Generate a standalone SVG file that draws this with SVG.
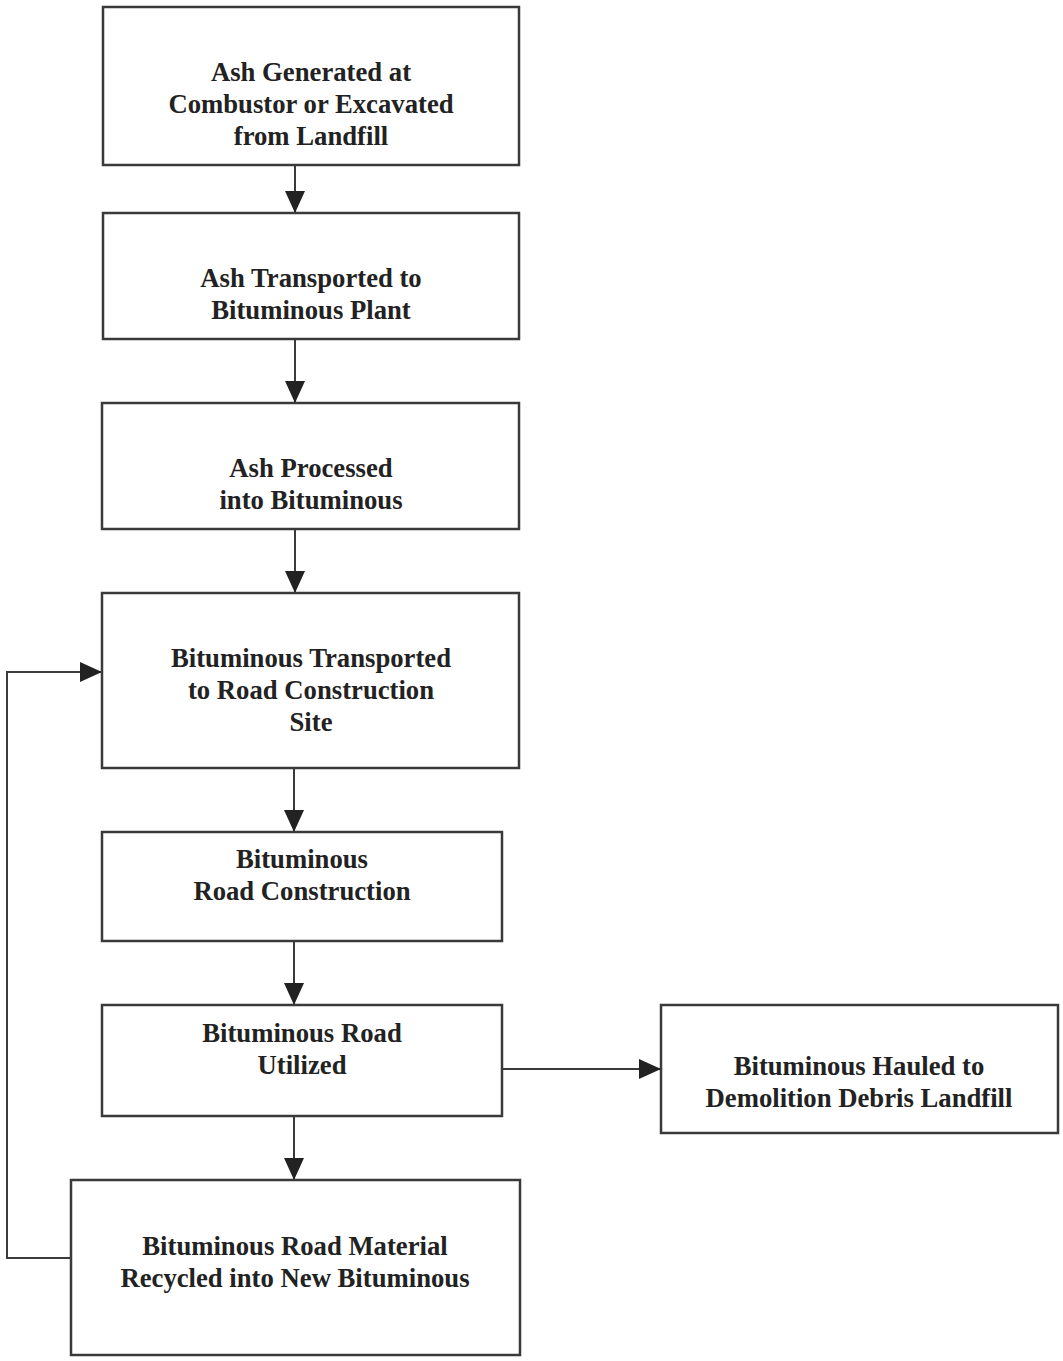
<svg xmlns="http://www.w3.org/2000/svg" width="1063" height="1361" viewBox="0 0 1063 1361">
<defs>
<style>
.box{fill:#fff;stroke:#3a3a3a;stroke-width:2.5}
.t{font-family:"Liberation Serif","Times New Roman",serif;font-weight:bold;font-size:26.7px;fill:#222;text-anchor:middle}
.c{fill:none;stroke:#3a3a3a;stroke-width:2}
</style>
<marker id="ah" markerWidth="22" markerHeight="20" refX="22" refY="10" orient="auto" markerUnits="userSpaceOnUse">
<path d="M0,0 L22,10 L0,20 Z" fill="#222"/>
</marker>
</defs>
<rect width="1063" height="1361" fill="#fff"/>
<g id="connectors">
<line class="c" x1="295" y1="165" x2="295" y2="213" marker-end="url(#ah)"/>
<line class="c" x1="295" y1="339" x2="295" y2="403" marker-end="url(#ah)"/>
<line class="c" x1="295" y1="529" x2="295" y2="593" marker-end="url(#ah)"/>
<line class="c" x1="294" y1="768" x2="294" y2="832" marker-end="url(#ah)"/>
<line class="c" x1="294" y1="941" x2="294" y2="1005" marker-end="url(#ah)"/>
<line class="c" x1="294" y1="1116" x2="294" y2="1180" marker-end="url(#ah)"/>
<line class="c" x1="502" y1="1069" x2="661" y2="1069" marker-end="url(#ah)"/>
<polyline class="c" points="71,1258 7,1258 7,672 102,672" marker-end="url(#ah)"/>
</g>
<g id="n1"><rect class="box" x="103" y="7" width="416" height="158"/>
<text class="t" x="311" y="81">Ash Generated at</text><text class="t" x="311" y="113">Combustor or Excavated</text><text class="t" x="311" y="145">from Landfill</text></g>
<g id="n2"><rect class="box" x="103" y="213" width="416" height="126"/>
<text class="t" x="311" y="287">Ash Transported to</text><text class="t" x="311" y="319">Bituminous Plant</text></g>
<g id="n3"><rect class="box" x="102" y="403" width="417" height="126"/>
<text class="t" x="311" y="477">Ash Processed</text><text class="t" x="311" y="509">into Bituminous</text></g>
<g id="n4"><rect class="box" x="102" y="593" width="417" height="175"/>
<text class="t" x="311" y="667">Bituminous Transported</text><text class="t" x="311" y="699">to Road Construction</text><text class="t" x="311" y="731">Site</text></g>
<g id="n5"><rect class="box" x="102" y="832" width="400" height="109"/>
<text class="t" x="302" y="868">Bituminous</text><text class="t" x="302" y="900">Road Construction</text></g>
<g id="n6"><rect class="box" x="102" y="1005" width="400" height="111"/>
<text class="t" x="302" y="1042">Bituminous Road</text><text class="t" x="302" y="1074">Utilized</text></g>
<g id="n7"><rect class="box" x="71" y="1180" width="449" height="175"/>
<text class="t" x="295" y="1255">Bituminous Road Material</text><text class="t" x="295" y="1287">Recycled into New Bituminous</text></g>
<g id="n8"><rect class="box" x="661" y="1005" width="397" height="128"/>
<text class="t" x="859" y="1075">Bituminous Hauled to</text><text class="t" x="859" y="1107">Demolition Debris Landfill</text></g>
</svg>
